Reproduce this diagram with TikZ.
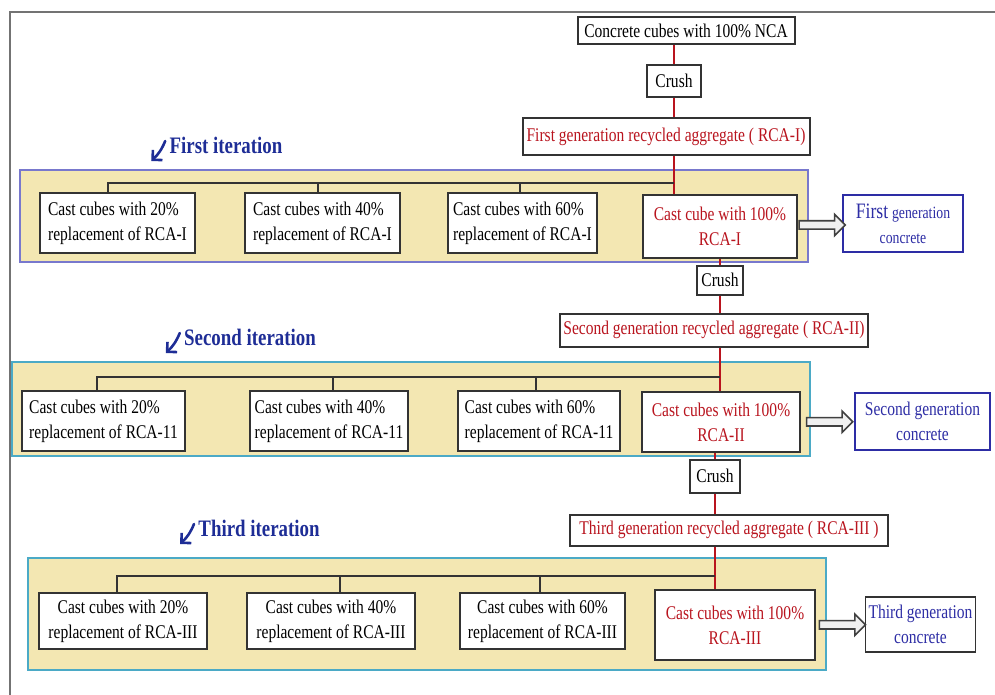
\documentclass[tikz,border=0pt]{standalone}
\usepackage{fontspec}
\setmainfont[FakeStretch=0.8]{Liberation Serif}
\usepackage{tikz}
\usetikzlibrary{shapes.arrows, arrows.meta, positioning, calc}

\definecolor{rcared}{RGB}{185,20,30}
\definecolor{genblue}{RGB}{45,45,165}
\definecolor{iterblue}{RGB}{30,45,150}
\definecolor{panelfill}{RGB}{243,231,178}
\definecolor{panelblue}{RGB}{120,120,205}
\definecolor{panelteal}{RGB}{75,170,198}

\tikzset{
    box/.style={draw=black!80, line width=1pt, fill=white, inner sep=1.5pt, align=center},
    cell/.style={box, align=left, minimum height=30pt},
    gen/.style={box, draw=genblue, text=genblue, line width=0.9pt},
    spine/.style={draw=rcared, line width=1.2pt},
    bus/.style={draw=black!80, line width=1pt},
    panel/.style={fill=panelfill, line width=1pt},
    frame/.style={draw=black!55, line width=1.3pt},
    hollow/.style={single arrow, draw=black!75, fill=gray!12, line width=0.8pt, inner sep=1.7pt,
        single arrow head extend=3.2pt, single arrow head indent=0pt, minimum height=23pt},
    iterlab/.style={text=iterblue, font=\fontsize{11.8}{14}\selectfont\bfseries, inner sep=0pt},
    iterarrow/.style={draw=iterblue, line width=1.3pt, line cap=round, -{Straight Barb[length=3.5pt, width=7pt]}}
}

\begin{document}
\begin{tikzpicture}[x=0.5pt, y=-0.5pt, font=\fontsize{9.7}{12.5}\selectfont]
    \useasboundingbox (0,0) rectangle (995,695);
    \draw[frame] (10,695) -- (10,12) -- (995,12);

    % panels
    \draw[panel, draw=panelblue] (20,170) rectangle (808,262);
    \draw[panel, draw=panelteal] (12,362) rectangle (810,456);
    \draw[panel, draw=panelteal] (28,558) rectangle (826,670);

    % first iteration
    \node[box, minimum width=108.5pt, minimum height=13.5pt] (nca) at (686,31) {Concrete cubes with 100\% NCA};
    \node[box, minimum width=27pt, minimum height=16pt] (crush1) at (674,81) {Crush};
    \node[box, text=rcared, minimum width=143.5pt, minimum height=18.5pt] (rca1) at (666,137) {First generation recycled aggregate ( RCA-I)};
    \foreach \n/\x/\w/\p in {b11/117.5/77.5/20, b12/322.5/77.5/40, b13/522.5/74.5/60} {
        \node[cell, minimum width=\w pt] (\n) at (\x,223.5) {Cast cubes with \p\%\\replacement of RCA-I};
    }
    \node[box, text=rcared, minimum width=77pt, minimum height=31.5pt] (b14) at (720,226.5) {Cast cube with 100\%\\RCA-I};
    \node[gen, minimum width=60pt, minimum height=28.5pt] (g1) at (903,223.5) {{\fontsize{11}{12}\selectfont First} {\fontsize{8.6}{12}\selectfont generation}\\{\fontsize{8.6}{12}\selectfont concrete}};

    % second iteration
    \node[box, minimum width=23pt, minimum height=14.5pt] (crush2) at (720,280) {Crush};
    \node[box, text=rcared, minimum width=154pt, minimum height=16.5pt] (rca2) at (714,330) {Second generation recycled aggregate ( RCA-II)};
    \foreach \n/\x/\w/\p in {b21/103.5/81.5/20, b22/329/79/40, b23/539/81/60} {
        \node[cell, minimum width=\w pt] (\n) at (\x,421) {Cast cubes with \p\%\\replacement of RCA-11};
    }
    \node[box, text=rcared, minimum width=79pt, minimum height=30pt] (b24) at (721,422) {Cast cubes with 100\%\\RCA-II};
    \node[gen, minimum width=67.5pt, minimum height=28.5pt] (g2) at (922.5,421.5) {Second generation\\concrete};

    % third iteration
    \node[box, minimum width=25pt, minimum height=16.5pt] (crush3) at (715,476) {Crush};
    \node[box, text=rcared, minimum width=159pt, minimum height=15.5pt] (rca3) at (729,530) {Third generation recycled aggregate ( RCA-III )};
    \foreach \n/\x/\w/\p in {b31/123/84/20, b32/331/84/40, b33/542.5/82.5/60} {
        \node[cell, align=center, minimum width=\w pt, minimum height=28pt] (\n) at (\x,621) {Cast cubes with \p\%\\replacement of RCA-III};
    }
    \node[box, text=rcared, minimum width=80pt, minimum height=35pt] (b34) at (735,625) {Cast cubes with 100\%\\RCA-III};
    \node[gen, draw=black!80, minimum width=54.5pt, minimum height=27.5pt] (g3) at (920.5,624.5) {Third generation\\concrete};

    % red spine
    \draw[spine] (crush1 |- nca.south) -- (crush1.north);
    \draw[spine] (crush1.south) -- (crush1 |- rca1.north);
    \draw[spine] (crush1 |- rca1.south) -- (crush1 |- b14.north);
    \draw[spine] (crush2 |- b14.south) -- (crush2.north);
    \draw[spine] (crush2.south) -- (crush2 |- rca2.north);
    \draw[spine] (crush2 |- rca2.south) -- (crush2 |- b24.north);
    \draw[spine] (crush3 |- b24.south) -- (crush3.north);
    \draw[spine] (crush3.south) -- (crush3 |- rca3.north);
    \draw[spine] (crush3 |- rca3.south) -- (crush3 |- b34.north);

    % branches to the cubes
    \coordinate (j1) at (674,183);
    \coordinate (j2) at (720,377);
    \coordinate (j3) at (715,576);
    \foreach \j/\a/\b/\c/\da/\db/\dc in {j1/b11/b12/b13/-4.75/-2.25/-1.25, j2/b21/b22/b23/-3.25/2/-1.5, j3/b31/b32/b33/-3/4.5/-1.25} {
        \draw[bus] ([xshift=\da pt]\a.north) |- (\j);
        \draw[bus] ([xshift=\db pt]\b.north) |- (\j);
        \draw[bus] ([xshift=\dc pt]\c.north) |- (\j);
    }

    % to the generation concrete
    \path (b14.east) -- (g1.west) node[midway, hollow] (a1) {};
    \path (b24.east) -- (g2.west) node[midway, hollow] (a2) {};
    \path (b34.east) -- (g3.west) node[midway, hollow] (a3) {};

    % iteration labels
    \node[iterlab] (l1) at (226,145) {First iteration};
    \node[iterlab] (l2) at (250,337) {Second iteration};
    \node[iterlab] (l3) at (259,528) {Third iteration};
    \foreach \l in {l1,l2,l3} {
        \draw[iterarrow] ([shift={(-4,-4)}]\l.west) to[bend left=12] ([shift={(-18,16)}]\l.west);
    }
\end{tikzpicture}
\end{document}
